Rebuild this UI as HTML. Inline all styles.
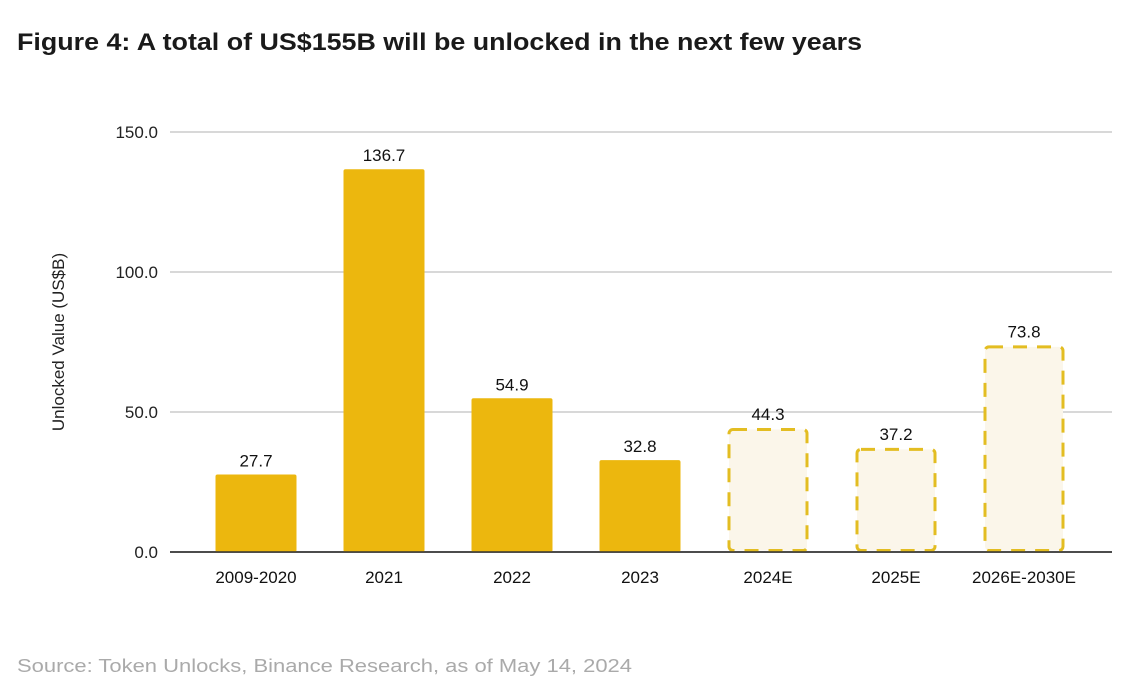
<!DOCTYPE html>
<html><head><meta charset="utf-8"><style>
body{margin:0;background:#fff;width:1123px;height:690px;overflow:hidden;font-family:"Liberation Sans",sans-serif}
svg{display:block}
</style></head><body>
<svg id="c" width="1123" height="690">
<text x="17" y="50" font-size="24" font-weight="bold" fill="#1a1a1a" textLength="845" lengthAdjust="spacingAndGlyphs">Figure 4: A total of US$155B will be unlocked in the next few years</text>
<text transform="translate(64,342) rotate(-90)" text-anchor="middle" font-size="17" fill="#222">Unlocked Value (US$B)</text>
<text x="17" y="672" font-size="18" fill="#aaa" textLength="615" lengthAdjust="spacingAndGlyphs">Source: Token Unlocks, Binance Research, as of May 14, 2024</text>
<g id="grid"></g><g id="bars"></g>
</svg>
<script>
const categories=["2009-2020","2021","2022","2023","2024E","2025E","2026E-2030E"];
const values=[27.7,136.7,54.9,32.8,44.3,37.2,73.8];
const estimated=[false,false,false,false,true,true,true];
const yTicks=[0,50,100,150];
const yTickLabels=["0.0","50.0","100.0","150.0"];
const NS="http://www.w3.org/2000/svg";
const y0=552,yTop=132,yMax=150;
const y=v=>y0-(v/yMax)*(y0-yTop);
const bandStart=192,band=128;
const xc=i=>bandStart+band*(i+0.5);
const bw=81;
function mk(t,a,p){const e=document.createElementNS(NS,t);for(const k in a)e.setAttribute(k,a[k]);p.appendChild(e);return e;}
const g=document.getElementById('grid'),b=document.getElementById('bars');
yTicks.forEach((t,i)=>{
 const l=mk('line',{x1:170,x2:1112,y1:y(t),y2:y(t),stroke:t===0?'#333':'#ccc','stroke-width':1.5},g);
 
 
 const tx=mk('text',{x:158,y:y(t)+6,'text-anchor':'end','font-size':17,fill:'#222'},g);
 tx.textContent=yTickLabels[i];
 
 
});
categories.forEach((c,i)=>{
 const x=xc(i)-bw/2,top=y(values[i]);
 let r;
 if(estimated[i]){
  r=mk('rect',{x:x+1.5,y:top+1.5,width:bw-3,height:y0-top-3,rx:4,fill:'#fbf6ea',stroke:'#e3bd22','stroke-width':3,'stroke-dasharray':'14,10'},b);
 } else {
  r=mk('rect',{x:x,y:top,width:bw,height:y0-top,rx:2,fill:'#ecb70e'},b);
 }
 
 
 const v=mk('text',{x:xc(i),y:top-8,'text-anchor':'middle','font-size':17,fill:'#111'},b);
 v.textContent=values[i].toFixed(1);
 
 
 const l=mk('text',{x:xc(i),y:583,'text-anchor':'middle','font-size':17,fill:'#111'},b);
 l.textContent=c;
 
 
});
mk('line',{x1:170,x2:1112,y1:y0,y2:y0,stroke:'#333','stroke-width':1.5},b);
</script>
</body></html>
